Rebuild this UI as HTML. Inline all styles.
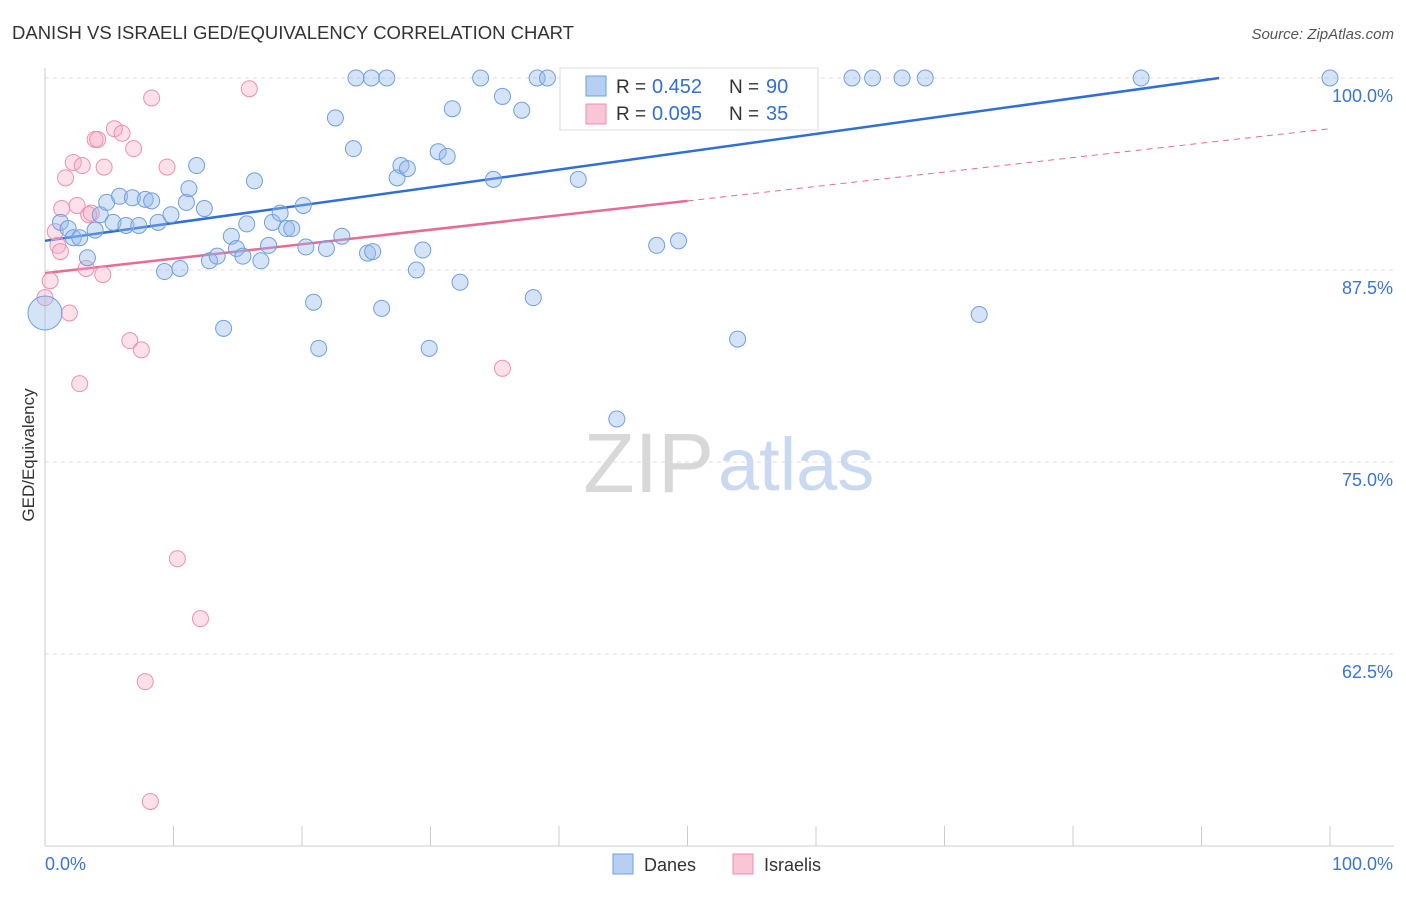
<!DOCTYPE html>
<html><head><meta charset="utf-8"><style>
body{margin:0;background:#fff;font-family:"Liberation Sans",sans-serif;}
svg text{font-family:"Liberation Sans",sans-serif;}
</style></head><body>
<svg id="chart" width="1406" height="892" xmlns="http://www.w3.org/2000/svg">
<text x="12" y="39" font-size="18.5" fill="#333">DANISH VS ISRAELI GED/EQUIVALENCY CORRELATION CHART</text>
<text x="1394" y="39" font-size="15" fill="#555" text-anchor="end" font-style="italic">Source: ZipAtlas.com</text>
<text x="714" y="492" font-size="84" fill="#d8d8d8" text-anchor="end" font-family="Liberation Serif">ZIP</text>
<text x="718" y="490" font-size="74" fill="#c8d9f0">atlas</text>
<text transform="translate(34,455) rotate(-90)" font-size="17" fill="#333" text-anchor="middle">GED/Equivalency</text>
<g id="grid"></g><g id="ticks"></g><g id="trend"></g><g id="pts"></g>
<g>
<rect x="560" y="68" width="258" height="62" fill="#fff" stroke="#ddd"/>
<rect x="586" y="76" width="20" height="20" fill="#b7cff2" stroke="#6f9fe0"/>
<text x="616" y="93" font-size="19" fill="#333">R =</text><text x="652" y="93" font-size="20" fill="#2f6fd8">0.452</text>
<text x="729" y="93" font-size="19" fill="#333">N =</text><text x="766" y="93" font-size="20" fill="#2f6fd8">90</text>
<rect x="586" y="104" width="20" height="20" fill="#f9c6d6" stroke="#ee8fb0"/>
<text x="616" y="120" font-size="19" fill="#333">R =</text><text x="652" y="120" font-size="20" fill="#2f6fd8">0.095</text>
<text x="729" y="120" font-size="19" fill="#333">N =</text><text x="766" y="120" font-size="20" fill="#2f6fd8">35</text>
</g>
<rect x="613" y="854" width="20" height="20" fill="#b7cff2" stroke="#6f9fe0"/>
<text x="644" y="871" font-size="18" fill="#333">Danes</text>
<rect x="733" y="854" width="20" height="20" fill="#f9c6d6" stroke="#ee8fb0"/>
<text x="764" y="871" font-size="18" fill="#333">Israelis</text>
</svg>
<script>
const yTicks=[100,87.5,75,62.5];
const yTickLabels=["100.0%","87.5%","75.0%","62.5%"];
const xTickLabels=["0.0%","100.0%"];
const danesX=[0,1.2,1.8,2.2,2.7,3.3,3.9,4.3,4.8,5.3,5.8,6.3,6.8,7.3,7.8,8.3,8.8,9.3,9.8,10.5,11.0,11.2,11.8,12.4,12.8,13.4,13.9,14.5,14.9,15.4,15.7,16.3,16.8,17.4,17.7,18.3,18.8,19.2,20.1,20.3,20.9,21.3,21.9,22.6,23.1,24.0,24.2,25.1,25.4,25.5,26.2,26.6,27.4,27.7,28.2,28.9,29.4,29.9,30.6,31.3,31.7,32.3,33.9,34.9,35.6,37.1,38.0,38.3,39.1,41.5,43.2,44.5,45.5,47.6,49.3,52.1,53.9,57.7,62.8,64.4,66.7,68.5,72.7,85.3,100];
const danesY=[84.7,90.6,90.2,89.6,89.6,88.3,90.1,91.1,91.9,90.6,92.3,90.4,92.2,90.4,92.1,92.0,90.6,87.4,91.1,87.6,91.9,92.8,94.3,91.5,88.1,88.4,83.7,89.7,88.9,88.4,90.5,93.3,88.1,89.1,90.6,91.2,90.2,90.2,91.7,89.0,85.4,82.4,88.9,97.4,89.7,95.4,100,88.6,100,88.7,85.0,100,93.5,94.3,94.1,87.5,88.8,82.4,95.2,94.9,98.0,86.7,100,93.4,98.8,97.9,85.7,100,100,93.4,100,77.8,100,89.1,89.4,100,83.0,100,100,100,100,100,84.6,100,100];
const israelisX=[0,0.4,0.8,1.0,1.2,1.3,1.6,1.9,2.2,2.5,2.7,2.9,3.2,3.4,3.6,3.9,4.1,4.5,4.6,5.4,6.0,6.6,6.9,7.5,7.8,8.2,8.3,9.5,10.3,12.1,15.9,35.6];
const israelisY=[85.7,86.8,90.0,89.1,88.7,91.5,93.5,84.7,94.5,91.7,80.1,94.3,87.6,91.1,91.2,96.0,96.0,87.2,94.2,96.7,96.4,82.9,95.4,82.3,60.7,52.9,98.7,94.2,68.7,64.8,99.3,81.1];
const danesTrend=[89.4,0.116];
const israelisTrend=[87.3,0.094];
const NS="http://www.w3.org/2000/svg";
const X=v=>45+v*12.85, Y=v=>78+(100-v)*15.36;
function mk(t,a,p){const e=document.createElementNS(NS,t);for(const k in a)e.setAttribute(k,a[k]);document.getElementById(p).appendChild(e);return e;}
yTicks.forEach((t,i)=>{
 const g=mk('line',{x1:45,x2:1394,y1:Y(t),y2:Y(t),stroke:'#ddd','stroke-dasharray':'4,4'},'grid');
 
 
 const l=mk('text',{x:1393,y:Y(t)+24,'font-size':18,fill:'#3a75d6','text-anchor':'end'},'ticks');l.textContent=yTickLabels[i];
 
 
});
mk('line',{x1:45,x2:45,y1:68,y2:846,stroke:'#ccc'},'grid');
mk('line',{x1:45,x2:1394,y1:846,y2:846,stroke:'#ccc'},'grid');
for(let i=0;i<=10;i++){mk('line',{x1:X(i*10),x2:X(i*10),y1:826,y2:846,stroke:'#ccc'},'grid');}
[0,100].forEach((v,i)=>{const t=mk('text',{x:i?1393:45,y:870,'font-size':18,fill:'#3a75d6','text-anchor':i?'end':'start'},'ticks');t.textContent=xTickLabels[i];
 
 });
const xe=(100-danesTrend[0])/danesTrend[1];
const bl=mk('line',{x1:X(0),y1:Y(danesTrend[0]),x2:X(xe),y2:Y(100),stroke:'#2f6fd8','stroke-width':2.5},'trend');


const pl=mk('line',{x1:X(0),y1:Y(israelisTrend[0]),x2:X(50),y2:Y(israelisTrend[0]+50*israelisTrend[1]),stroke:'#e86a95','stroke-width':2.5},'trend');


const pd=mk('line',{x1:X(50),y1:Y(israelisTrend[0]+50*israelisTrend[1]),x2:X(100),y2:Y(israelisTrend[0]+100*israelisTrend[1]),stroke:'#e86a95','stroke-width':1,'stroke-dasharray':'6,5'},'trend');


israelisX.forEach((x,i)=>{const c=mk('circle',{cx:X(x),cy:Y(israelisY[i]),r:8,fill:'rgba(245,170,195,0.35)',stroke:'#ee8fb0','stroke-width':1},'pts');
 
 });
danesX.forEach((x,i)=>{const c=mk('circle',{cx:X(x),cy:Y(danesY[i]),r:i==0?17:8,fill:'rgba(150,185,235,0.4)',stroke:'#6f9fe0','stroke-width':1},'pts');
 
 });
</script>
</body></html>
